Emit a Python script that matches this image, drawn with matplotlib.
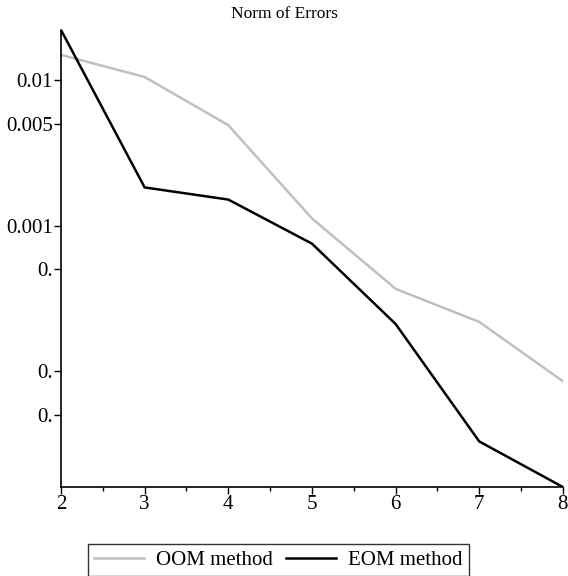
import matplotlib.pyplot as plt
from matplotlib.ticker import FixedLocator, FixedFormatter, MultipleLocator, NullLocator

plt.rcParams['font.family'] = ['Liberation Serif', 'DejaVu Serif']

n = [2, 3, 4, 5, 6, 7, 8]
oom_err = [0.0149, 0.0105, 0.0049, 0.00112, 0.000368, 0.000218, 0.0000853]
eom_err = [0.0221, 0.00183, 0.00151, 0.000752, 0.000211, 0.0000329, 0.0000160]

ytick_vals = [0.01, 0.005, 0.001, 0.0005, 0.0001, 0.00005]
ytick_labels = ['0.01', '0.005', '0.001', '0.', '0.', '0.']

fig = plt.figure(figsize=(5.68, 5.76), dpi=100)
ax = fig.add_axes([0.1074, 0.1545, 0.8836, 0.7935])

ax.plot(n, oom_err, color='#c0c0c0', lw=1.8, label='OOM method')
ax.plot(n, eom_err, color='black', lw=1.8, label='EOM method')

ax.set_yscale('log')
ax.set_xlim(2, 8)
ax.set_ylim(0.0000160, 0.0221)

ax.yaxis.set_major_locator(FixedLocator(ytick_vals))
ax.yaxis.set_major_formatter(FixedFormatter(ytick_labels))
ax.yaxis.set_minor_locator(NullLocator())
ax.xaxis.set_major_locator(MultipleLocator(1))
ax.xaxis.set_minor_locator(MultipleLocator(0.5))

for s in ['top', 'right']:
    ax.spines[s].set_visible(False)
ax.spines['left'].set_linewidth(1.2)
ax.spines['bottom'].set_linewidth(1.2)
ax.tick_params(axis='both', which='major', labelsize=15, length=5, width=1, pad=1)
ax.tick_params(axis='x', which='minor', length=3, width=1)

fig.suptitle('Norm of Errors', fontsize=12.5, x=0.5, y=0.99, va='top')

leg = fig.legend(loc='center', bbox_to_anchor=(0.49, 0.027), ncol=2, fontsize=15,
                 frameon=True, fancybox=False, edgecolor='black', handlelength=2.4,
                 columnspacing=0.6, handletextpad=0.6, borderpad=0.3)
leg.get_frame().set_linewidth(1.0)

fig.savefig('out.png', dpi=100)
